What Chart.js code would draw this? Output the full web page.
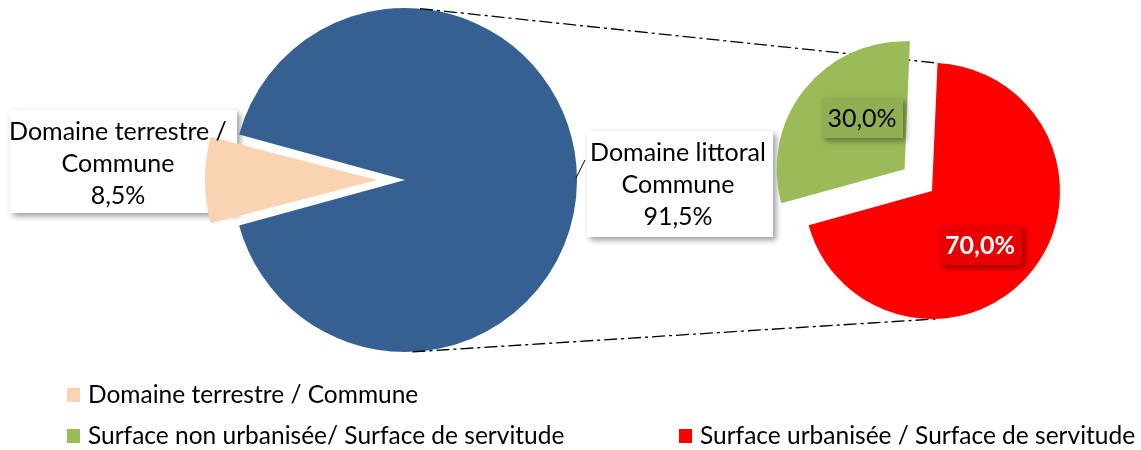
<!DOCTYPE html>
<html>
<head>
<meta charset="utf-8">
<script src="https://cdn.jsdelivr.net/npm/chart.js@4.4.1/dist/chart.umd.min.js"></script>
<style>
  html, body { margin: 0; padding: 0; background: #fff; }
  #wrap { position: relative; width: 1141px; height: 450px; }
  .layer { position: absolute; left: 0; top: 0; width: 1141px; height: 450px; }
</style>
</head>
<body>
<div id="wrap">
  <div class="layer"><canvas id="pieMain"></canvas></div>
  <div class="layer" style="z-index:2"><canvas id="pieDetail"></canvas></div>
</div>
<script>
// Données du graphique (secteur de secteur)
const principalLabels = ['Domaine terrestre / Commune', 'Domaine littoral Commune'];
const principalValeurs = [8.5, 91.5];
const principalCouleurs = ['#FAD3B1', '#376092'];

const detailLabels = ['Surface urbanisée / Surface de servitude', 'Surface non urbanisée/ Surface de servitude'];
const detailValeurs = [70.0, 30.0];
const detailCouleurs = ['#FF0000', '#9BBB59'];

const police = 'Lato, "Open Sans", sans-serif';
const fmtPct = v => v.toFixed(1).replace('.', ',') + '%';

function boite(ctx, x, y, w, h, fond) {
    ctx.save();
    ctx.shadowColor = 'rgba(0,0,0,0.4)';
    ctx.shadowBlur = 6;
    ctx.shadowOffsetX = 3;
    ctx.shadowOffsetY = 3;
    ctx.fillStyle = fond;
    ctx.fillRect(x, y, w, h);
    ctx.restore();
}

function lignes(ctx, textes, cx, y0, pas, couleur, gras) {
    ctx.save();
    ctx.fillStyle = couleur;
    ctx.font = (gras ? 'bold ' : '') + '25px ' + police;
    ctx.textAlign = 'center';
    ctx.textBaseline = 'middle';
    textes.forEach((t, i) => ctx.fillText(t, cx, y0 + i * pas));
    ctx.restore();
}

function pointArc(arc, deg) {
    const a = deg * Math.PI / 180;
    return { x: arc.x + arc.outerRadius * Math.cos(a), y: arc.y + arc.outerRadius * Math.sin(a) };
}

// Chart.js agrandit le rayon d'un secteur décalé : on compense pour garder le même rayon
const rayonFixe = {
    id: 'rayonFixe',
    afterDatasetsUpdate(chart) {
        chart.getDatasetMeta(0).data.forEach(arc => {
            const off = (arc.options.offset || 0) / 4;
            if (!off) return;
            const fix = 1 - Math.sin(Math.min(Math.PI, arc.circumference));
            arc.outerRadius -= off * fix;
        });
    }
};

// Petit secteur (à droite) - le décalage est divisé par 4 au dessin
const detailChart = new Chart(document.getElementById('pieDetail'), {
    type: 'pie',
    data: {
        labels: detailLabels,
        datasets: [{
            data: detailValeurs,
            backgroundColor: detailCouleurs,
            borderWidth: 0,
            offset: [0, 140]
        }]
    },
    options: {
        responsive: true,
        maintainAspectRatio: false,
        animation: false,
        events: [],
        radius: 128,
        rotation: 2.5,
        layout: { padding: { left: 723, right: 0, top: 0, bottom: 68 } },
        plugins: { legend: { display: false }, tooltip: { enabled: false } }
    },
    plugins: [rayonFixe, {
        id: 'etiquettesDetail',
        afterDatasetsDraw(chart) {
            const ctx = chart.ctx;
            boite(ctx, 822, 98, 81, 40, '#90AF52');
            lignes(ctx, [fmtPct(detailValeurs[1])], 862, 119, 0, '#000', false);
            boite(ctx, 940, 225, 82, 40, '#E80000');
            lignes(ctx, [fmtPct(detailValeurs[0])], 980, 246, 0, '#fff', true);
        }
    }]
});

// Grand secteur (à gauche) + lignes de liaison + légende
const principalChart = new Chart(document.getElementById('pieMain'), {
    type: 'pie',
    data: {
        labels: principalLabels,
        datasets: [{
            data: principalValeurs,
            backgroundColor: principalCouleurs,
            borderWidth: 0,
            offset: [112, 0]
        }]
    },
    options: {
        responsive: true,
        maintainAspectRatio: false,
        animation: false,
        events: [],
        radius: 172,
        rotation: 180 - principalValeurs[0] * 1.8 + 90,
        layout: { padding: { left: 0, right: 331, top: 0, bottom: 90 } },
        plugins: { legend: { display: false }, tooltip: { enabled: false } }
    },
    plugins: [rayonFixe, {
        id: 'habillage',
        beforeDatasetsDraw(chart) {
            const ctx = chart.ctx;
            boite(ctx, 10, 110, 227, 103, '#fff');
        },
        afterDatasetsDraw(chart) {
            const ctx = chart.ctx;
            const g = chart.getDatasetMeta(0).data[1];
            const d = detailChart.getDatasetMeta(0).data[0];

            // lignes de liaison
            ctx.save();
            ctx.strokeStyle = '#000';
            ctx.lineWidth = 1.3;
            ctx.setLineDash([13, 4, 3, 4]);
            [[-85, -87.5], [87.5, 88]].forEach(([a1, a2]) => {
                const p1 = pointArc(g, a1), p2 = pointArc(d, a2);
                ctx.beginPath();
                ctx.moveTo(p1.x, p1.y);
                ctx.lineTo(p2.x, p2.y);
                ctx.stroke();
            });
            ctx.restore();

            // étiquette terrestre
            lignes(ctx, ['Domaine terrestre /', 'Commune', fmtPct(principalValeurs[0])], 118, 132, 32, '#000', false);

            // étiquette littoral
            ctx.save();
            ctx.strokeStyle = '#000';
            ctx.lineWidth = 1;
            ctx.beginPath();
            ctx.moveTo(576, 178);
            ctx.lineTo(585, 160);
            ctx.stroke();
            ctx.restore();
            boite(ctx, 587, 131, 186, 106, '#fff');
            lignes(ctx, ['Domaine littoral', 'Commune', fmtPct(principalValeurs[1])], 678, 153, 32, '#000', false);

            // légende
            const items = [
                { t: principalLabels[0], c: principalCouleurs[0], x: 67, y: 395 },
                { t: detailLabels[1], c: detailCouleurs[1], x: 67, y: 436 },
                { t: detailLabels[0], c: detailCouleurs[0], x: 679, y: 436 }
            ];
            ctx.save();
            ctx.font = '24.5px ' + police;
            ctx.textBaseline = 'middle';
            ctx.textAlign = 'left';
            items.forEach(it => {
                ctx.fillStyle = it.c;
                ctx.fillRect(it.x, it.y - 7, 13, 14);
                ctx.fillStyle = '#000';
                ctx.fillText(it.t, it.x + 21, it.y);
            });
            ctx.restore();
        }
    }]
});
</script>
</body>
</html>
